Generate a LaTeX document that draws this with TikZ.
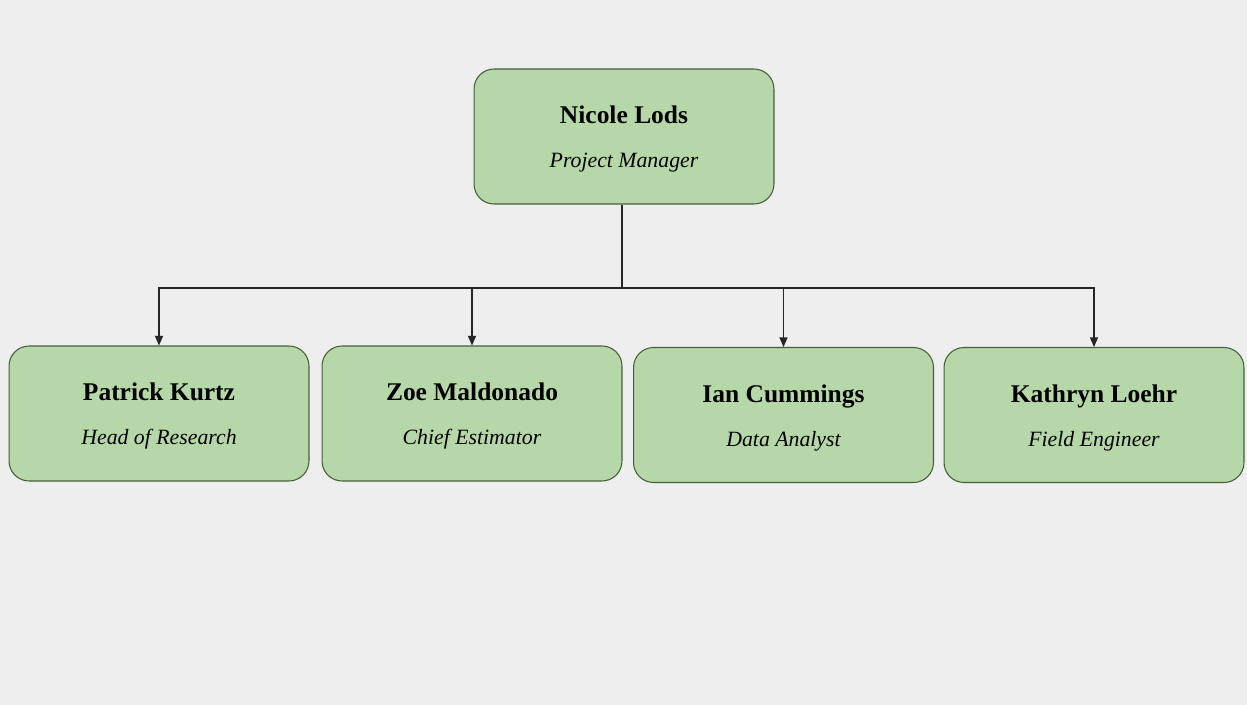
\documentclass[tikz,border=0pt]{standalone}
\usepackage{fontspec}
\setmainfont{Liberation Serif}
\usepackage{tikz}
\usetikzlibrary{arrows.meta}
\definecolor{boxfill}{HTML}{B6D7A8}
\definecolor{boxline}{HTML}{445E3A}
\definecolor{paper}{HTML}{EEEEEE}
\tikzset{
  person/.style  = {draw=boxline,fill=boxfill,line width=0.6pt,rounded corners=0.4cm,
                    minimum width=6cm,minimum height=2.7cm,inner sep=0pt,align=center},
  linkarr/.style = {-{Triangle[length=1.9mm,width=1.6mm]},line width=0.7pt,black!85},
  plainln/.style = {line width=0.7pt,black!85}
}
\newcommand{\who}[2]{{\fontsize{14.5}{17}\selectfont\bfseries\rule{0pt}{13.2pt}#1}\\[13pt]{\fontsize{12.4}{15}\selectfont\itshape #2}}

\begin{document}
\begin{tikzpicture}[x=0.02cm,y=-0.02cm]
  \fill[paper] (0,0) rectangle (1247,705);
  \useasboundingbox (0,0) rectangle (1247,705);
  \node[person] (pm) at (624,136.5) {\who{Nicole Lods}{Project Manager}};
  \node[person] (hr) at (159,413.5) {\who{Patrick Kurtz}{Head of Research}};
  \node[person] (ce) at (472,413.5) {\who{Zoe Maldonado}{Chief Estimator}};
  \node[person] (da) at (783.5,415) {\who{Ian Cummings}{Data Analyst}};
  \node[person] (fe) at (1094,415) {\who{Kathryn Loehr}{Field Engineer}};
  \coordinate (bus) at (622,288);
  \draw[plainln] (bus |- pm.south) -- (bus);
  \foreach \kid in {hr,ce,da,fe}
    \draw[linkarr] (bus) -| (\kid.north);
\end{tikzpicture}
\end{document}
